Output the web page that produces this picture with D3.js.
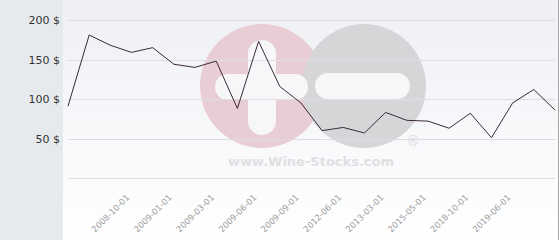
<!DOCTYPE html>
<html>
<head>
<meta charset="utf-8">
<script src="https://cdn.jsdelivr.net/npm/d3@7"></script>
<style>
  body { margin: 0; background: #fff; }
  svg { display: block; }
</style>
</head>
<body>
<div id="container"></div>
<script>
var width = 560,
    height = 240;

// tick labels: only every second date is printed on the axis
var dates = ["", "", "", "2008-10-01", "", "2009-01-01", "", "2009-03-01",
             "", "2009-06-01", "", "2009-09-01", "", "2012-06-01", "",
             "2013-03-01", "", "2015-05-01", "", "2018-10-01", "", "2019-06-01",
             "", ""];
// price in $
var prices = [91, 181, 168, 159, 165, 144, 140, 148, 88, 173, 116, 95,
              60, 64, 57, 83, 73, 72, 63, 82, 51, 95, 112, 86];
var yTicks = [0, 50, 100, 150, 200];

var svg = d3.select("#container").append("svg")
    .attr("width", width)
    .attr("height", height);

var defs = svg.append("defs");
var grad = defs.append("linearGradient")
    .attr("id", "bg")
    .attr("x1", 0).attr("y1", 0).attr("x2", 0).attr("y2", 1);
grad.append("stop").attr("offset", "0%").attr("stop-color", "#eff0f5");
grad.append("stop").attr("offset", "100%").attr("stop-color", "#ffffff");

// grey panel on the left
svg.append("rect")
    .attr("x", 0).attr("y", 0)
    .attr("width", 63).attr("height", height)
    .attr("fill", "#e6eaed");

svg.append("rect")
    .attr("x", 63).attr("y", 0)
    .attr("width", 495).attr("height", height)
    .attr("fill", "url(#bg)");

svg.append("line")
    .attr("x1", 558.5).attr("x2", 558.5)
    .attr("y1", 0).attr("y2", height)
    .attr("stroke", "#a8a8a8");

var x = d3.scalePoint()
    .domain(d3.range(prices.length))
    .range([68, 555]);

var y = d3.scaleLinear()
    .domain([0, 200])
    .range([178, 20]);

// watermark
var wm = svg.append("g").attr("class", "watermark");
wm.append("circle").attr("cx", 262).attr("cy", 86).attr("r", 62)
    .attr("fill", "#e9cdd4");
wm.append("circle").attr("cx", 364).attr("cy", 86).attr("r", 62)
    .attr("fill", "#d6d6d9");
wm.append("rect").attr("x", 248).attr("y", 40).attr("width", 28).attr("height", 95)
    .attr("rx", 14).attr("fill", "#f7f7fa");
wm.append("rect").attr("x", 215).attr("y", 74).attr("width", 93).attr("height", 26)
    .attr("rx", 13).attr("fill", "#f7f7fa");
wm.append("rect").attr("x", 315).attr("y", 73).attr("width", 95).attr("height", 26)
    .attr("rx", 13).attr("fill", "#f7f7fa");
wm.append("text")
    .attr("x", 311).attr("y", 166)
    .attr("text-anchor", "middle")
    .style("font-family", "DejaVu Sans")
    .style("font-weight", "bold")
    .style("font-size", "13px")
    .attr("fill", "#e0e0e3")
    .text("www.Wine-Stocks.com");
wm.append("text")
    .attr("x", 413).attr("y", 146)
    .attr("text-anchor", "middle")
    .style("font-family", "DejaVu Sans")
    .style("font-size", "14px")
    .attr("fill", "#dadadd")
    .text("\u00ae");

// grid lines
svg.append("g")
    .selectAll("line")
    .data(yTicks)
    .enter()
    .append("line")
    .attr("x1", 68).attr("x2", 555)
    .attr("y1", function(d) { return Math.round(y(d)) + 0.5; })
    .attr("y2", function(d) { return Math.round(y(d)) + 0.5; })
    .attr("stroke", "#dddde2");

// y labels
svg.append("g")
    .selectAll("text")
    .data(yTicks.filter(function(d) { return d > 0; }))
    .enter()
    .append("text")
    .attr("x", 60)
    .attr("y", function(d) { return y(d) + 4; })
    .attr("text-anchor", "end")
    .style("font-family", "DejaVu Sans")
    .style("font-size", "11px")
    .attr("fill", "#333")
    .text(function(d) { return d + " $"; });

// x labels, rotated
svg.append("g")
    .selectAll("text")
    .data(dates)
    .enter()
    .append("text")
    .attr("transform", function(d, i) {
        return "translate(" + (x(i) - 1.5) + ",198) rotate(-45)";
    })
    .attr("text-anchor", "end")
    .style("font-family", "DejaVu Sans")
    .style("font-size", "8.5px")
    .attr("fill", "#9d9d9d")
    .text(function(d) { return d; });

var line = d3.line()
    .x(function(d, i) { return x(i); })
    .y(function(d) { return y(d); });

svg.append("path")
    .datum(prices)
    .attr("d", line)
    .attr("fill", "none")
    .attr("stroke", "#3a2a35")
    .attr("stroke-width", 1);
</script>
</body>
</html>
